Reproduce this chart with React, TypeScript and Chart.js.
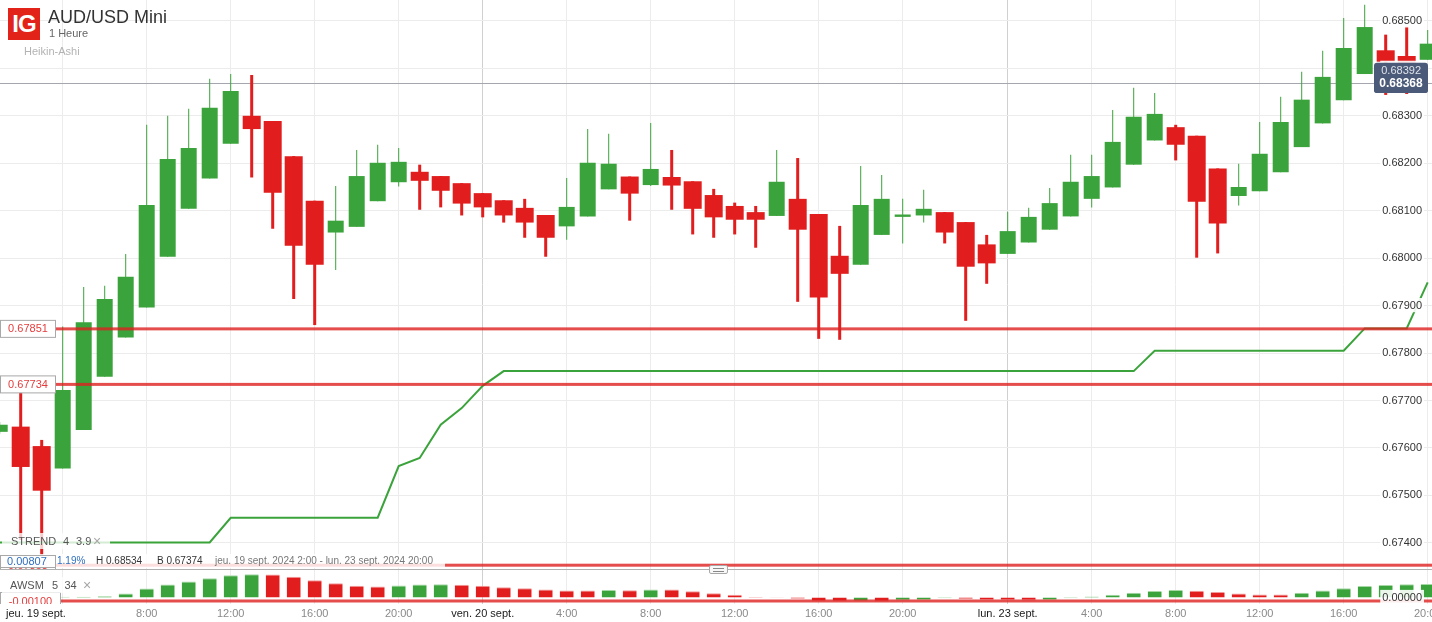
import React, { useEffect, useRef } from 'react';
import { Chart, registerables } from 'chart.js';

Chart.register(...registerables);

const FONT = "'Liberation Sans', Arial, Helvetica, sans-serif";
Chart.defaults.font.family = FONT;

// Heikin-Ashi candles, 1 hour each: jeu. 19 sept. 1:00 -> lun. 23 sept. 20:00
const haOpen = [
  0.67634, 0.67645, 0.67604, 0.67557, 0.67638, 0.6775, 0.67833, 0.67896, 0.68003, 0.68104,
  0.68168, 0.68241, 0.683, 0.68289, 0.68215, 0.68121, 0.68054, 0.68066, 0.6812, 0.6816,
  0.68182, 0.68173, 0.68158, 0.68137, 0.68122, 0.68106, 0.68091, 0.68067, 0.68088, 0.68145,
  0.68172, 0.68154, 0.68171, 0.68162, 0.68133, 0.6811, 0.68097, 0.68089, 0.68125, 0.68093,
  0.68005, 0.67986, 0.68049, 0.68087, 0.6809, 0.68097, 0.68076, 0.68029, 0.68009, 0.68033,
  0.6806, 0.68088, 0.68125, 0.68149, 0.68197, 0.68248, 0.68276, 0.68258, 0.68189, 0.68131,
  0.68141, 0.68181, 0.68234, 0.68284, 0.68333, 0.68388, 0.68438, 0.68426, 0.68418,
];
const haHigh = [
  0.67655, 0.67727, 0.67617, 0.67856, 0.67939, 0.67942, 0.68009, 0.68281, 0.683, 0.68315,
  0.68378, 0.68388, 0.68386, 0.68289, 0.68215, 0.68121, 0.68152, 0.68228, 0.68239, 0.68232,
  0.68197, 0.68173, 0.68158, 0.68137, 0.68122, 0.68125, 0.68091, 0.68169, 0.68272, 0.68262,
  0.68172, 0.68285, 0.68228, 0.68162, 0.68146, 0.68117, 0.6811, 0.68228, 0.68211, 0.68093,
  0.68068, 0.68194, 0.68175, 0.68125, 0.68144, 0.68097, 0.68076, 0.68049, 0.68098, 0.68106,
  0.68148, 0.68218, 0.68218, 0.68312, 0.68359, 0.68348, 0.68281, 0.68258, 0.68189, 0.68199,
  0.68287, 0.6834, 0.68393, 0.68437, 0.68506, 0.68534, 0.68471, 0.68488, 0.68481,
];
const haLow = [
  0.6763, 0.67406, 0.67374, 0.67557, 0.67638, 0.6775, 0.67833, 0.67896, 0.68003, 0.68104,
  0.68168, 0.68241, 0.6817, 0.68062, 0.67914, 0.67859, 0.67975, 0.68066, 0.6812, 0.68151,
  0.68102, 0.68107, 0.6809, 0.68086, 0.68075, 0.68043, 0.68003, 0.68039, 0.68088, 0.68145,
  0.68079, 0.68152, 0.68102, 0.6805, 0.68043, 0.6805, 0.68022, 0.68089, 0.67908, 0.6783,
  0.67828, 0.67986, 0.68049, 0.68031, 0.68075, 0.68031, 0.67868, 0.67946, 0.68009, 0.68033,
  0.6806, 0.68088, 0.68107, 0.68149, 0.68197, 0.68248, 0.68206, 0.68001, 0.6801, 0.68111,
  0.68141, 0.68181, 0.68234, 0.68284, 0.68333, 0.68388, 0.68344, 0.68346, 0.68418,
];
const haClose = [
  0.67649, 0.6756, 0.6751, 0.67722, 0.67865, 0.67914, 0.67961, 0.68112, 0.68209, 0.68232,
  0.68317, 0.68352, 0.68272, 0.68138, 0.68026, 0.67986, 0.68079, 0.68173, 0.68201, 0.68203,
  0.68163, 0.68142, 0.68115, 0.68107, 0.6809, 0.68075, 0.68043, 0.68108, 0.68201, 0.68199,
  0.68136, 0.68188, 0.68153, 0.68104, 0.68086, 0.68081, 0.68081, 0.68161, 0.6806, 0.67917,
  0.67967, 0.68112, 0.68125, 0.68092, 0.68104, 0.68054, 0.67982, 0.67989, 0.68057, 0.68087,
  0.68116, 0.68161, 0.68173, 0.68245, 0.68298, 0.68304, 0.68239, 0.68119, 0.68073, 0.6815,
  0.6822, 0.68287, 0.68334, 0.68382, 0.68443, 0.68487, 0.68414, 0.6841, 0.68452,
];
// STREND (4, 3.9)
const strend = [
  0.67401, 0.67401, 0.67401, 0.67401, 0.67401, 0.67401, 0.67401, 0.67401, 0.67401, 0.67401,
  0.67401, 0.67453, 0.67453, 0.67453, 0.67453, 0.67453, 0.67453, 0.67453, 0.67453, 0.67562,
  0.67579, 0.67649, 0.67684, 0.67731, 0.67762, 0.67762, 0.67762, 0.67762, 0.67762, 0.67762,
  0.67762, 0.67762, 0.67762, 0.67762, 0.67762, 0.67762, 0.67762, 0.67762, 0.67762, 0.67762,
  0.67762, 0.67762, 0.67762, 0.67762, 0.67762, 0.67762, 0.67762, 0.67762, 0.67762, 0.67762,
  0.67762, 0.67762, 0.67762, 0.67762, 0.67762, 0.67805, 0.67805, 0.67805, 0.67805, 0.67805,
  0.67805, 0.67805, 0.67805, 0.67805, 0.67805, 0.67852, 0.67852, 0.67852, 0.67949,
];
// AWSM (5, 34)
const awsm = [
  0.00009, 0.00006, 0.00003, 0.0002, 0.00023, 0.00037, 0.00114, 0.00257, 0.00371, 0.00457,
  0.00551, 0.00637, 0.00666, 0.00657, 0.00591, 0.00494, 0.00409, 0.00334, 0.00314, 0.00343,
  0.00371, 0.0038, 0.00363, 0.00334, 0.00294, 0.00266, 0.00229, 0.00203, 0.002, 0.00217,
  0.00209, 0.00229, 0.00226, 0.0018, 0.00123, 0.00077, 0.00017, -0.00009, -0.00037, -0.00097,
  -0.00106, -0.00097, -0.00114, -0.00086, -0.00069, -0.0002, -0.00049, -0.00069, -0.00077, -0.00086,
  -0.00069, -0.0002, 0.00029, 0.00077, 0.00137, 0.00186, 0.00214, 0.00194, 0.00154, 0.00114,
  0.00086, 0.00083, 0.00137, 0.00203, 0.00263, 0.00331, 0.0036, 0.0038, 0.00389,
];

const priceTicks = [0.674, 0.675, 0.676, 0.677, 0.678, 0.679, 0.68, 0.681, 0.682, 0.683, 0.684, 0.685];
const awsmTicks = [0];
const timeTickIndex = [3, 7, 11, 15, 19, 23, 27, 31, 35, 39, 43, 48, 52, 56, 60, 64, 68];
const timeTickLabels = ['', '8:00', '12:00', '16:00', '20:00', 'ven. 20 sept.', '4:00', '8:00', '12:00', '16:00', '20:00', 'lun. 23 sept.', '4:00', '8:00', '12:00', '16:00', '20:00'];
const dayTickIndex = [23, 48];
const firstDayLabel = 'jeu. 19 sept.';

const priceLines = [0.67851, 0.67734, 0.67353];
const awsmLines = [-0.001];
const lastPrices = [0.68392, 0.68368];

const X_MIN = 0.0143;
const X_MAX = 68.205;
const P_MIN = 0.67345;
const P_MAX = 0.68544;
const A_MIN = -0.00186;
const A_MAX = 0.00814;

const GREEN = '#3ba33b';
const RED = '#e11d1d';
const LINE_RED = 'rgba(222,32,32,0.8)';

function drawLabelBox(ctx: any, x: number, y: number, w: number, text: string) {
  ctx.fillStyle = '#ffffff';
  ctx.fillRect(x, y - 8.5, w, 17);
  ctx.strokeStyle = '#a8a8a8';
  ctx.lineWidth = 1;
  ctx.strokeRect(x, y - 8.5, w, 17);
  ctx.fillStyle = '#e43c3c';
  ctx.font = `11px ${FONT}`;
  ctx.textAlign = 'center';
  ctx.textBaseline = 'middle';
  ctx.fillText(text, x + w / 2, y + 0.5);
}

function xScale(showLabels: boolean) {
  return {
    type: 'linear',
    min: X_MIN,
    max: X_MAX,
    offset: false,
    afterBuildTicks: (s: any) => {
      s.ticks = timeTickIndex.map((v) => ({ value: v }));
    },
    afterFit: (s: any) => {
      s.height = showLabels ? 18 : 0;
      s.paddingLeft = 0;
      s.paddingRight = 0;
    },
    grid: {
      offset: false,
      drawTicks: false,
      lineWidth: 1,
      color: (c: any) => (c.tick && dayTickIndex.includes(c.tick.value) ? '#d0d0d0' : '#ececec'),
    },
    border: { display: false },
    ticks: {
      display: showLabels,
      autoSkip: false,
      maxRotation: 0,
      minRotation: 0,
      padding: 3,
      font: { size: 11, family: FONT },
      color: (c: any) => (c.tick && dayTickIndex.includes(c.tick.value) ? '#1a1a1a' : '#8a8a8a'),
      callback: (_v: any, i: number) => timeTickLabels[i] ?? '',
    },
  };
}

function yScale(min: number, max: number, ticks: number[], showGrid: boolean) {
  return {
    type: 'linear',
    position: 'right',
    min,
    max,
    afterBuildTicks: (s: any) => {
      s.ticks = ticks.map((v) => ({ value: v }));
    },
    afterFit: (s: any) => {
      s.width = 0;
      s.paddingTop = 0;
      s.paddingBottom = 0;
    },
    grid: { display: showGrid, color: '#ececec', drawTicks: false },
    border: { display: false },
    ticks: {
      mirror: true,
      padding: -10,
      z: 1,
      color: '#333333',
      font: { size: 11, family: FONT },
      callback: (v: any) => Number(v).toFixed(5),
      showLabelBackdrop: true,
      backdropColor: 'rgba(255,255,255,0.9)',
      backdropPadding: { left: 2, right: 2, top: 1, bottom: 0 },
    },
  };
}

const mainOverlay = {
  id: 'mainOverlay',
  beforeDatasetsDraw(chart: any) {
    const { ctx, chartArea } = chart;
    const y = chart.scales.y.getPixelForValue(lastPrices[1]);
    ctx.save();
    ctx.strokeStyle = '#a4a8ae';
    ctx.lineWidth = 1.2;
    ctx.beginPath();
    ctx.moveTo(chartArea.left, y);
    ctx.lineTo(chartArea.right, y);
    ctx.stroke();
    ctx.restore();
  },
  afterDatasetsDraw(chart: any) {
    const { ctx, chartArea } = chart;
    ctx.save();
    priceLines.forEach((p) => {
      const y = chart.scales.y.getPixelForValue(p);
      ctx.fillStyle = LINE_RED;
      ctx.fillRect(chartArea.left, y - 1.5, chartArea.right - chartArea.left, 3);
      drawLabelBox(ctx, 0.5, y, 55, p.toFixed(5));
    });
    ctx.restore();
  },
  afterDraw(chart: any) {
    const { ctx, chartArea } = chart;
    const ys = chart.scales.y;
    const y1 = ys.getPixelForValue(lastPrices[0]);
    const y2 = ys.getPixelForValue(lastPrices[1]);
    const w = 54;
    const left = chartArea.right - 4 - w;
    ctx.save();
    ctx.fillStyle = '#4b5a79';
    ctx.beginPath();
    ctx.roundRect(left, y1 - 9.5, w, y2 + 9.5 - (y1 - 9.5), 3);
    ctx.fill();
    ctx.font = `11px ${FONT}`;
    ctx.fillStyle = '#dfe3ea';
    ctx.textAlign = 'right';
    ctx.textBaseline = 'middle';
    ctx.fillText(lastPrices[0].toFixed(5), chartArea.right - 11, y1 - 1);
    ctx.fillStyle = '#4b5a79';
    ctx.beginPath();
    ctx.roundRect(left, y2 - 9, w, 18.5, [0, 0, 3, 3]);
    ctx.fill();
    ctx.fillStyle = '#ffffff';
    ctx.font = `bold 12px ${FONT}`;
    ctx.textAlign = 'center';
    ctx.fillText(lastPrices[1].toFixed(5), left + w / 2, y2 + 0.5);
    ctx.restore();
  },
};

const subOverlay = {
  id: 'subOverlay',
  afterDatasetsDraw(chart: any) {
    const { ctx, chartArea } = chart;
    ctx.save();
    ctx.beginPath();
    ctx.rect(chartArea.left, chartArea.top, chartArea.right - chartArea.left, chartArea.bottom - chartArea.top);
    ctx.clip();
    awsmLines.forEach((v) => {
      const y = chart.scales.y.getPixelForValue(v);
      ctx.fillStyle = LINE_RED;
      ctx.fillRect(chartArea.left, y - 1.5, chartArea.right - chartArea.left, 3);
      drawLabelBox(ctx, 0.5, y, 60, v.toFixed(5));
    });
    ctx.restore();
  },
  afterDraw(chart: any) {
    const { ctx } = chart;
    const xs = chart.scales.x;
    ctx.save();
    ctx.font = `11px ${FONT}`;
    ctx.fillStyle = '#1a1a1a';
    ctx.textAlign = 'left';
    ctx.textBaseline = 'middle';
    ctx.fillText(firstDayLabel, xs.left + 6, xs.top + 3 + 6.6);
    ctx.restore();
  },
};

function T(key: string, x: number, cy: number, size: number, color: string, text: string, extra: any = {}) {
  return (
    <div
      key={key}
      style={{
        position: 'absolute',
        left: x,
        top: cy - 0.4885 * size,
        fontSize: size,
        lineHeight: `${size}px`,
        color,
        whiteSpace: 'nowrap',
        fontFamily: FONT,
        ...extra,
      }}
    >
      {text}
    </div>
  );
}

export default function App() {
  const mainRef = useRef<HTMLCanvasElement>(null);
  const subRef = useRef<HTMLCanvasElement>(null);

  useEffect(() => {
    document.body.style.margin = '0';
    const idx = haOpen.map((_, i) => i);
    const isUp = idx.map((i) => haClose[i] >= haOpen[i]);
    const bodies = (up: boolean) => idx.filter((i) => isUp[i] === up).map((i) => ({ x: i, y: [haOpen[i], haClose[i]] }));
    const wicks = (up: boolean) => idx.filter((i) => isUp[i] === up).map((i) => ({ x: i, y: [haLow[i], haHigh[i]] }));

    const barBase = { grouped: false, borderWidth: 0, inflateAmount: 0 };

    const main = new Chart(mainRef.current as HTMLCanvasElement, {
      type: 'bar',
      data: {
        datasets: [
          { ...barBase, data: wicks(true), backgroundColor: GREEN, barThickness: 1, order: 4 } as any,
          { ...barBase, data: wicks(false), backgroundColor: RED, barThickness: 3, order: 4 } as any,
          { ...barBase, data: bodies(true), backgroundColor: GREEN, barThickness: 16, order: 3 } as any,
          { ...barBase, data: bodies(false), backgroundColor: RED, barThickness: 18, order: 3 } as any,
          {
            type: 'line',
            data: strend.map((v, i) => ({ x: i, y: v })),
            borderColor: GREEN,
            borderWidth: 2,
            pointRadius: 0,
            tension: 0,
            order: 1,
          } as any,
        ],
      },
      options: {
        responsive: false,
        animation: false,
        events: [],
        layout: { padding: 0, autoPadding: false },
        plugins: { legend: { display: false }, tooltip: { enabled: false } },
        scales: {
          x: xScale(false),
          y: yScale(P_MIN, P_MAX, priceTicks, true),
        } as any,
      } as any,
      plugins: [mainOverlay],
    });

    const aoColors = awsm.map((v, i) => (i === 0 || v >= awsm[i - 1] ? GREEN : RED));
    const aoBorders = awsm.map((v, i) => (i === 0 || v >= awsm[i - 1] ? '#a6d8a6' : '#f29a9a'));

    const sub = new Chart(subRef.current as HTMLCanvasElement, {
      type: 'bar',
      data: {
        datasets: [
          {
            data: awsm.map((v, i) => ({ x: i, y: v })),
            backgroundColor: aoColors,
            borderColor: aoBorders,
            borderWidth: (c: any) => {
              const v = awsm[c.dataIndex];
              return v >= 0 ? { top: 1, left: 0, right: 0, bottom: 0 } : { top: 0, left: 0, right: 0, bottom: 1 };
            },
            borderSkipped: 'start',
            barThickness: 14,
            grouped: false,
            inflateAmount: 0,
          } as any,
        ],
      },
      options: {
        responsive: false,
        animation: false,
        events: [],
        layout: { padding: 0, autoPadding: false },
        plugins: { legend: { display: false }, tooltip: { enabled: false } },
        scales: {
          x: xScale(true),
          y: yScale(A_MIN, A_MAX, awsmTicks, false),
        } as any,
      } as any,
      plugins: [subOverlay],
    });

    return () => {
      main.destroy();
      sub.destroy();
    };
  }, []);

  const labelBg = 'rgba(255,255,255,0.78)';

  return (
    <div style={{ position: 'relative', width: 1432, height: 622, overflow: 'hidden', background: '#fff', fontFamily: FONT }}>
      <canvas ref={mainRef} width={1432} height={569} style={{ position: 'absolute', left: 0, top: 0, width: 1432, height: 569 }} />
      <canvas ref={subRef} width={1432} height={53} style={{ position: 'absolute', left: 0, top: 569, width: 1432, height: 53 }} />

      {/* header */}
      <div
        style={{
          position: 'absolute', left: 8, top: 8, width: 32, height: 32, background: '#e2231a', color: '#fff',
          fontWeight: 'bold', fontSize: 24, lineHeight: '32px', textAlign: 'center', letterSpacing: -1, fontFamily: FONT,
        }}
      >
        IG
      </div>
      {T('title', 48, 16.3, 18, '#333333', 'AUD/USD Mini')}
      {T('period', 49, 33.4, 11, '#666666', '1 Heure')}
      {T('type', 24, 51, 11, '#b3b3b3', 'Heikin-Ashi')}

      {/* STREND label */}
      <div style={{ position: 'absolute', left: 2, top: 533, width: 108, height: 16, background: labelBg }} />
      {T('st1', 11, 541, 11, '#555555', 'STREND')}
      {T('st2', 63, 541, 11, '#555555', '4')}
      {T('st3', 76, 541, 11, '#555555', '3.9')}
      {T('st4', 93, 540.5, 14, '#a6a6a6', '×')}

      {/* info bar */}
      <div style={{ position: 'absolute', left: 0, top: 554, width: 445, height: 14, background: 'rgba(255,255,255,0.82)' }} />
      <div
        style={{
          position: 'absolute', left: 0, top: 555, width: 56, height: 13, boxSizing: 'border-box',
          border: '1px solid #a8a8a8', background: 'rgba(255,255,255,0.85)',
        }}
      />
      {T('i1', 7, 561.5, 11, '#2f6fc0', '0.00807')}
      {T('i2', 57, 561, 10, '#2f6fc0', '1.19%')}
      {T('i3', 96, 561, 10, '#333333', 'H 0.68534')}
      {T('i4', 157, 561, 10, '#333333', 'B 0.67374')}
      {T('i5', 215, 561, 10, '#777777', 'jeu. 19 sept. 2024 2:00 - lun. 23 sept. 2024 20:00')}

      {/* panel separator */}
      <div style={{ position: 'absolute', left: 0, top: 569, width: 1432, height: 1, background: '#b0b0b0' }} />
      <div
        style={{
          position: 'absolute', left: 709, top: 565, width: 19, height: 9, boxSizing: 'border-box',
          border: '1px solid #a8a8a8', borderRadius: 2, background: '#f8f8f8',
        }}
      >
        <div style={{ position: 'absolute', left: 3, top: 2, width: 11, height: 1, background: '#888' }} />
        <div style={{ position: 'absolute', left: 3, top: 5, width: 11, height: 1, background: '#888' }} />
      </div>

      {/* AWSM label */}
      <div style={{ position: 'absolute', left: 2, top: 577, width: 98, height: 16, background: labelBg }} />
      {T('aw1', 10, 585, 11, '#555555', 'AWSM')}
      {T('aw2', 52, 585, 11, '#555555', '5')}
      {T('aw3', 64.5, 585, 11, '#555555', '34')}
      {T('aw4', 83, 584.5, 14, '#a6a6a6', '×')}
    </div>
  );
}
